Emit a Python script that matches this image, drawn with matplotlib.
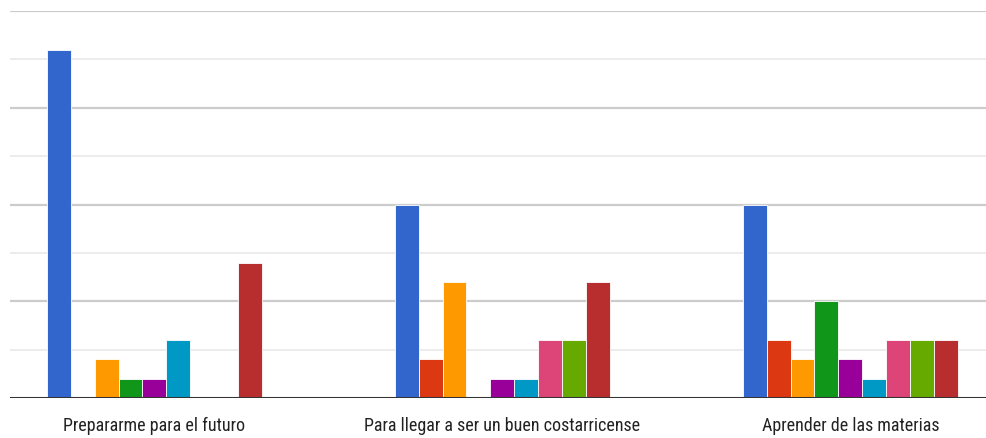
import numpy as np
import matplotlib.pyplot as plt

# categories and series values (counts)
categories = ["Prepararme para el futuro",
              "Para llegar a ser un buen costarricense",
              "Aprender de las materias"]
series_colors = ["#3366cc", "#dc3912", "#ff9900", "#109618", "#990099",
                 "#0099c6", "#dd4477", "#66aa00", "#b82e2e"]
values = [
    [18, 0, 2, 1, 1, 3, 0, 0, 7],
    [10, 2, 6, 0, 1, 1, 3, 3, 6],
    [10, 3, 2, 5, 2, 1, 3, 3, 3],
]

plt.rcParams['font.family'] = ['Roboto Condensed', 'Liberation Sans', 'DejaVu Sans']

fig = plt.figure(figsize=(9.86, 4.39), dpi=100)
ax = fig.add_axes([10 / 986, 40 / 439, 976 / 986, 387 / 439])

n_series = len(series_colors)
bar_w = 0.0687
x = np.arange(len(categories))
data = np.array(values)
for i, color in enumerate(series_colors):
    offs = (i - (n_series - 1) / 2) * bar_w
    ax.bar(x + offs, data[:, i], width=bar_w, color=color,
           edgecolor='white', linewidth=0.6, zorder=3)

ax.set_xlim(-0.415, 2.39)
ax.set_ylim(0, 20)

# gridlines
for y in np.arange(2.5, 20.1, 2.5):
    major = (y % 5 == 0)
    ax.axhline(y, color='#cccccc' if major else '#ebebeb',
               linewidth=1.6 if major else 1.3, zorder=1)
ax.axhline(0, color='#333333', linewidth=2.2, zorder=4)

ax.set_xticks(x)
ax.set_xticklabels(categories, fontsize=13, color='#222222')
ax.tick_params(axis='x', length=0, pad=13)
ax.set_yticks([])
for s in ax.spines.values():
    s.set_visible(False)

fig.savefig('out.png', dpi=100)
